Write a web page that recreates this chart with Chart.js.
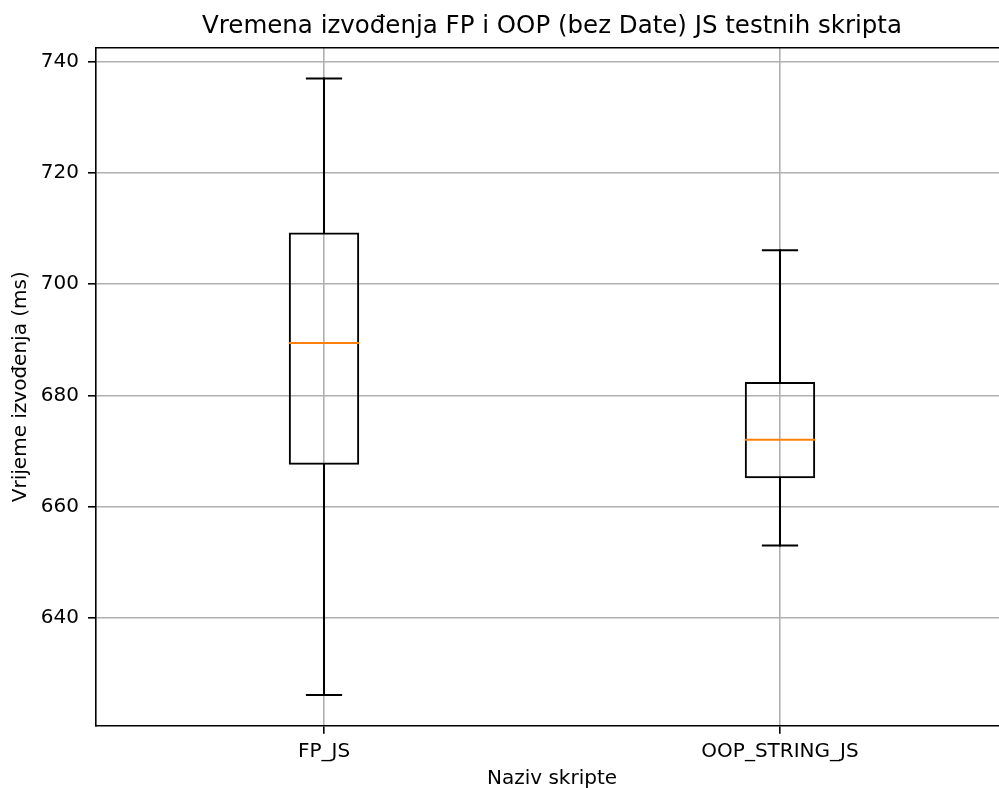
<!DOCTYPE html>
<html>
<head>
<meta charset="utf-8">
<script src="https://cdn.jsdelivr.net/npm/chart.js@4/dist/chart.umd.min.js"></script>
<style>
html,body{margin:0;padding:0;background:#fff;overflow:hidden;width:999px;height:788px}
canvas{display:block}
</style>
</head>
<body>
<canvas id="c" width="999" height="788" style="width:999px;height:788px"></canvas>
<script>
// ---- data ----
const categories  = ['FP_JS', 'OOP_STRING_JS'];
const positions   = [1, 2];
const whiskerLow  = [626.1, 653.0];
const q1          = [667.5, 665.1];
const median      = [689.4, 672.0];
const q3          = [709.3, 682.4];
const whiskerHigh = [737.0, 706.1];
const yTicks = [640, 660, 680, 700, 720, 740];

const titleText = 'Vremena izvođenja FP i OOP (bez Date) JS testnih skripta';
const xTitle = 'Naziv skripte';
const yTitle = 'Vrijeme izvođenja (ms)';

// y limits like matplotlib autoscale (5% margins)
const dLo = Math.min(...whiskerLow), dHi = Math.max(...whiskerHigh);
const yMin = dLo - 0.05 * (dHi - dLo), yMax = dHi + 0.05 * (dHi - dLo);
// x limits: axes span 0.5..2.5, the figure is cropped on the right
const xMin = 0.5, xFull = 2.5, xMax = 2.4803;

const FONT = 'DejaVu Sans';
const BOX_W = 0.15;

const boxParts = {
  id: 'boxParts',
  afterLayout(chart) {
    const x = chart.scales.x;
    const fullRight = x.getPixelForValue(xFull);
    if (chart.titleBlock) chart.titleBlock.right = fullRight;
    x.right = fullRight;
  },
  afterDatasetsDraw(chart) {
    const {ctx, chartArea, scales: {x, y}} = chart;
    const bw = (x.getPixelForValue(1) - x.getPixelForValue(0)) * BOX_W;
    ctx.save();
    ctx.lineCap = 'square';
    positions.forEach((p, i) => {
      const cx = x.getPixelForValue(p);
      ctx.strokeStyle = '#000';
      ctx.lineWidth = 2;
      // whiskers
      ctx.beginPath();
      ctx.moveTo(cx, y.getPixelForValue(q3[i]));
      ctx.lineTo(cx, y.getPixelForValue(whiskerHigh[i]));
      ctx.moveTo(cx, y.getPixelForValue(q1[i]));
      ctx.lineTo(cx, y.getPixelForValue(whiskerLow[i]));
      ctx.stroke();
      // caps
      ctx.beginPath();
      [whiskerHigh[i], whiskerLow[i]].forEach(v => {
        const py = y.getPixelForValue(v);
        ctx.moveTo(cx - bw / 4, py);
        ctx.lineTo(cx + bw / 4, py);
      });
      ctx.stroke();
      // median
      ctx.strokeStyle = '#ff7f0e';
      ctx.beginPath();
      const my = y.getPixelForValue(median[i]);
      ctx.moveTo(cx - bw / 2, my);
      ctx.lineTo(cx + bw / 2, my);
      ctx.stroke();
    });
    // top spine
    const right = x.getPixelForValue(xFull);
    ctx.lineCap = 'butt';
    ctx.strokeStyle = '#000';
    ctx.lineWidth = 1.6;
    ctx.beginPath();
    ctx.moveTo(chartArea.left - 0.8, chartArea.top);
    ctx.lineTo(right + 0.8, chartArea.top);
    ctx.stroke();
    ctx.restore();
  }
};

const gridOpts = {color: '#b0b0b0', lineWidth: 1.6, tickColor: '#000', tickWidth: 1.6, tickLength: 8, drawTicks: true, offset: false};

new Chart(document.getElementById('c'), {
  type: 'bar',
  data: {
    datasets: [{
      data: positions.map((p, i) => ({x: p, y: [q1[i], q3[i]]})),
      backgroundColor: 'rgba(0,0,0,0)',
      borderColor: '#000',
      borderWidth: 2,
      borderSkipped: false,
      inflateAmount: 0,
      barPercentage: 0.1544,
      categoryPercentage: 1
    }]
  },
  options: {
    responsive: false,
    animation: false,
    devicePixelRatio: 1,
    layout: {padding: 0},
    plugins: {
      legend: {display: false},
      tooltip: {enabled: false},
      title: {
        display: true, text: titleText, fullSize: false, color: '#000',
        font: {family: FONT, size: 24.5, weight: 'normal', lineHeight: 1.2},
        padding: {top: 12.3, bottom: 6.0}
      }
    },
    scales: {
      x: {
        type: 'linear', min: xMin, max: xMax, offset: false, bounds: 'data',
        afterBuildTicks(s) { s.ticks = positions.map(v => ({value: v})); },
        grid: gridOpts,
        border: {color: '#000', width: 1.6},
        ticks: {color: '#000', font: {family: FONT, size: 20}, padding: 6.4, maxRotation: 0, autoSkip: false,
                callback: (v) => categories[positions.indexOf(v)]},
        title: {display: true, text: xTitle, color: '#000', font: {family: FONT, size: 20, lineHeight: 1.2}, padding: {top: 0, bottom: -2.7}},
        afterFit(s) { s.height = 62.3; }
      },
      y: {
        type: 'linear', min: yMin, max: yMax, bounds: 'data',
        afterBuildTicks(s) { s.ticks = yTicks.map(v => ({value: v})); },
        grid: gridOpts,
        border: {color: '#000', width: 1.6},
        ticks: {color: '#000', font: {family: FONT, size: 20}, padding: 9},
        title: {display: true, text: yTitle, color: '#000', font: {family: FONT, size: 20, lineHeight: 1.2}, padding: {top: 8.8, bottom: 0}},
        afterFit(s) { s.width = 96; }
      }
    }
  },
  plugins: [boxParts]
});
</script>
</body>
</html>
